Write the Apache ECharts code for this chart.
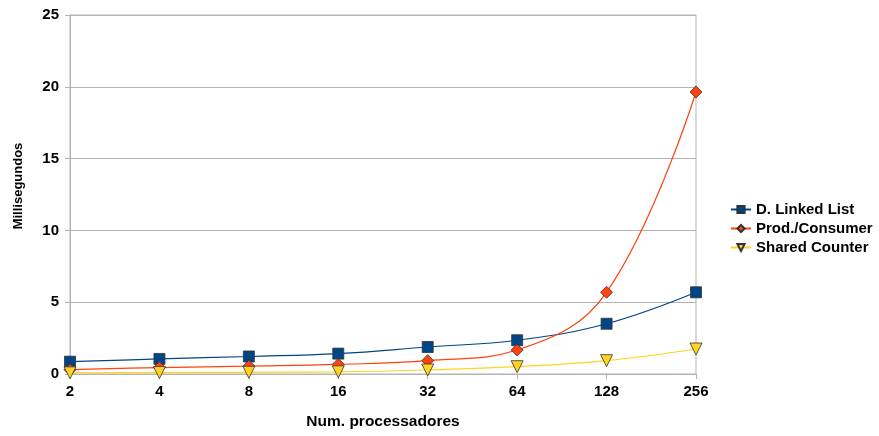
<!DOCTYPE html>
<html><head><meta charset="utf-8">
<script src="https://cdn.jsdelivr.net/npm/echarts@6/dist/echarts.min.js"></script>
<style>html,body{margin:0;padding:0;background:#fff}#c{width:879px;height:436px}</style>
</head><body><div id="c"></div>
<script>
const categories = ['2','4','8','16','32','64','128','256'];
const linkedList = [0.86, 1.05, 1.22, 1.42, 1.88, 2.35, 3.5, 5.69];
const prodConsumer = [0.3, 0.45, 0.55, 0.67, 0.93, 1.67, 5.69, 19.64];
const sharedCounter = [0.08, 0.1, 0.12, 0.15, 0.28, 0.51, 0.93, 1.74];
const yTicks = [0, 5, 10, 15, 20, 25];

const font = '"Liberation Sans", Arial, sans-serif';
const chart = echarts.init(document.getElementById('c'));
function ser(name, data, color, symbol, size, rot) {
  return {
    name, type: 'line', data, smooth: 0.4, symbol, symbolSize: size, symbolRotate: rot || 0,
    lineStyle: { color, width: 1.2 }, itemStyle: { color, borderColor: '#333', borderWidth: 0.8 },
    emphasis: { disabled: true }
  };
}
chart.setOption({
  animation: false,
  grid: { left: 70, right: 183, top: 15, bottom: 62, show: true, borderColor: '#b3b3b3', borderWidth: 1 },
  legend: {
    orient: 'vertical', left: 730, top: 202, padding: 0, itemGap: 4, itemWidth: 20, itemHeight: 9,
    textStyle: { fontFamily: font, fontWeight: 'bold', fontSize: 15, color: '#000' },
    data: ['D. Linked List', 'Prod./Consumer', 'Shared Counter']
  },
  graphic: [{
    type: 'text', x: 18, y: 186, rotation: Math.PI / 2,
    style: { text: 'Millisegundos', fontFamily: font, fontWeight: 'bold', fontSize: 13, fill: '#000',
      align: 'center', verticalAlign: 'middle' }
  }],
  xAxis: {
    type: 'category', data: categories, boundaryGap: false,
    name: 'Num. processadores', nameLocation: 'middle', nameGap: 40,
    nameTextStyle: { fontFamily: font, fontWeight: 'bold', fontSize: 15.5, color: '#000' },
    axisLine: { lineStyle: { color: '#b3b3b3' } },
    axisTick: { show: true, length: 5, lineStyle: { color: '#b3b3b3' } },
    axisLabel: { fontFamily: font, fontWeight: 'bold', fontSize: 15, color: '#000', margin: 10 },
    splitLine: { show: false }
  },
  yAxis: {
    type: 'value', min: 0, max: 25, interval: 5,
    axisLine: { show: true, lineStyle: { color: '#b3b3b3' } },
    axisTick: { show: true, length: 5, lineStyle: { color: '#b3b3b3' } },
    axisLabel: { fontFamily: font, fontWeight: 'bold', fontSize: 15, color: '#000', margin: 11,
      formatter: v => yTicks.includes(v) ? String(v) : '' },
    splitLine: { lineStyle: { color: '#b3b3b3' } }
  },
  series: [
    ser('D. Linked List', linkedList, '#004586', 'rect', 11),
    ser('Prod./Consumer', prodConsumer, '#ff420e', 'diamond', 12),
    ser('Shared Counter', sharedCounter, '#ffd320', 'triangle', 12, 180)
  ]
});
</script></body></html>
